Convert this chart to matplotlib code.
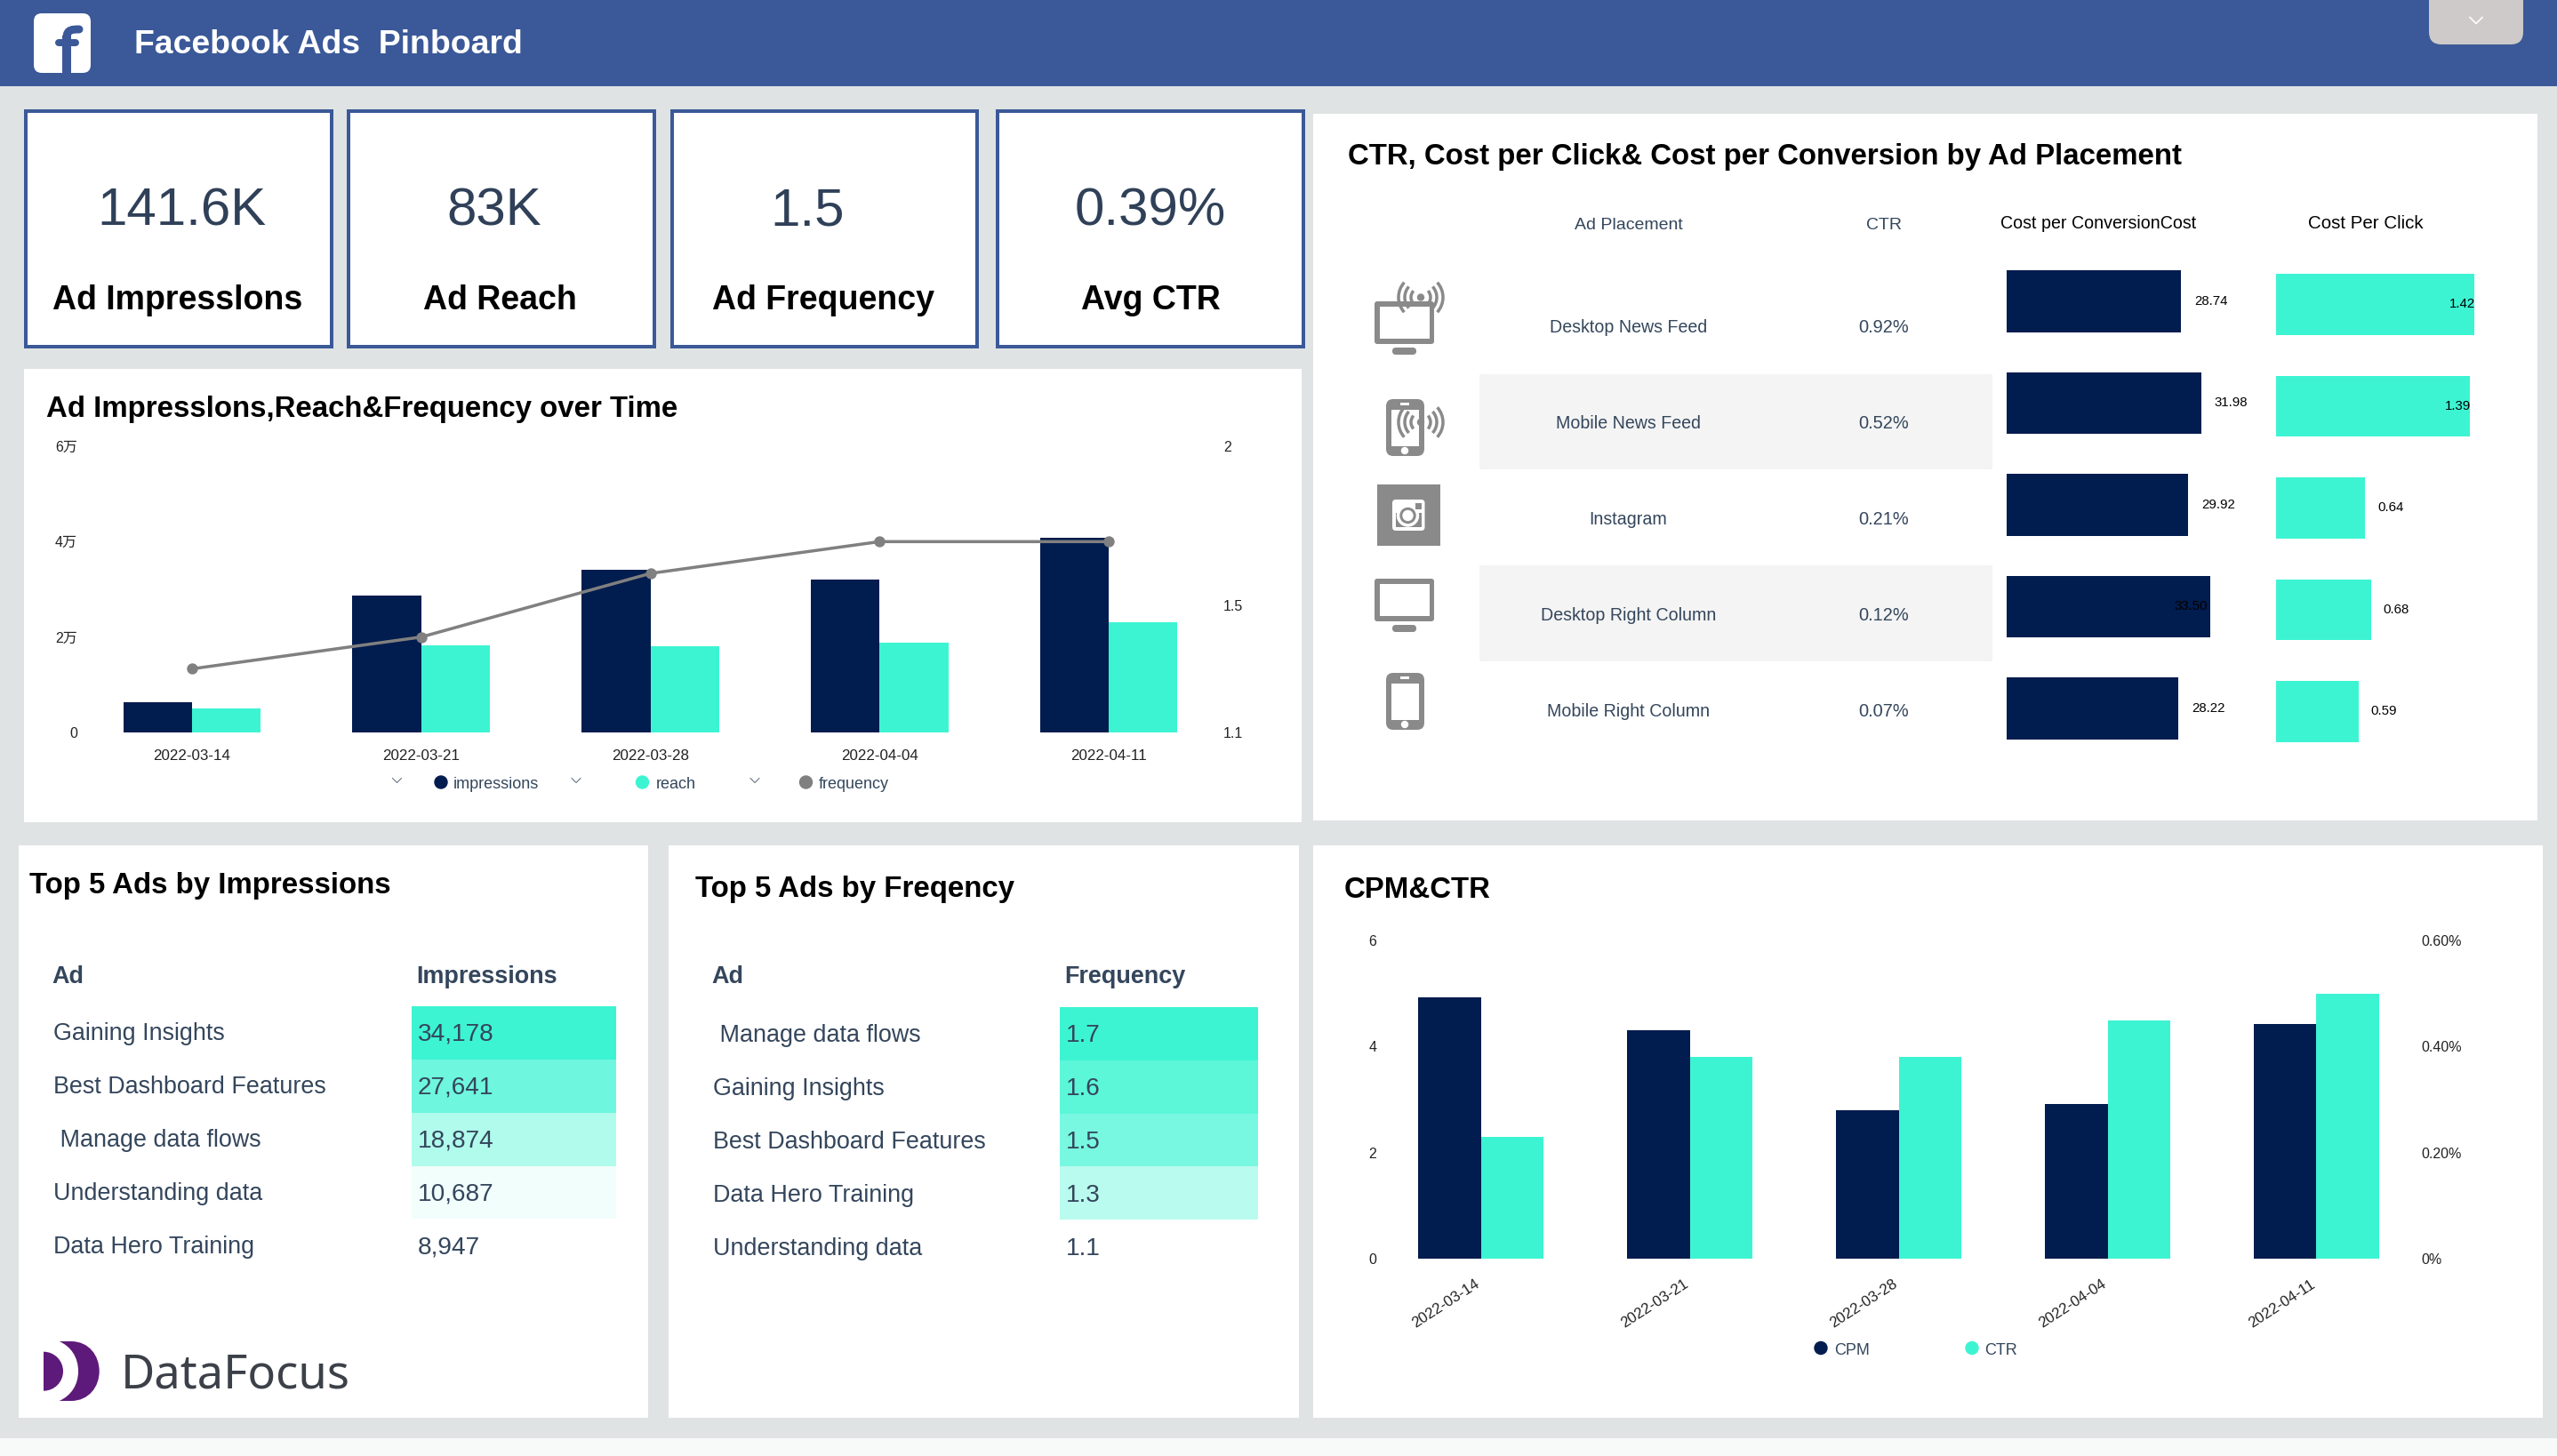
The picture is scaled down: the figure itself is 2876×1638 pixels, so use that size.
import matplotlib
matplotlib.use('Agg')
import matplotlib.pyplot as plt
from matplotlib.patches import Rectangle, FancyBboxPatch, Circle, Wedge, Arc, PathPatch
from matplotlib.path import Path
from matplotlib.transforms import ScaledTranslation

W, H = 2876, 1638

NAVY = '#011c4e'
TEAL = '#3df4d2'
BLUE = '#3b5998'
GREY = '#8a8a8a'
SLATE = '#34465c'

plt.rcParams['font.family'] = ['Liberation Sans', 'Noto Sans CJK SC', 'DejaVu Sans']

# data
weeks = ['2022-03-14', '2022-03-21', '2022-03-28', '2022-04-04', '2022-04-11']
impressions = [6400, 28760, 34040, 32050, 40750]
reach = [5030, 18200, 18140, 18760, 23170]
frequency = [1.30, 1.40, 1.60, 1.70, 1.70]
cpm = [4.93, 4.30, 2.80, 2.91, 4.43]
ctr_weekly = [0.23, 0.38, 0.38, 0.45, 0.50]

kpi_values = ['141.6K', '83K', '1.5', '0.39%']
kpi_labels = ['Ad Impresslons', 'Ad Reach', 'Ad Frequency', 'Avg CTR']

placements = ['Desktop News Feed', 'Mobile News Feed', 'Instagram', 'Desktop Right Column', 'Mobile Right Column']
placement_ctr = ['0.92%', '0.52%', '0.21%', '0.12%', '0.07%']
cost_conv = [28.74, 31.98, 29.92, 33.50, 28.22]
cost_click = [1.42, 1.39, 0.64, 0.68, 0.59]

top_imp_ads = ['Gaining Insights', 'Best Dashboard Features', ' Manage data flows', 'Understanding data', 'Data Hero Training']
top_imp_values = ['34,178', '27,641', '18,874', '10,687', '8,947']
top_imp_colors = ['#3df4d2', '#6ef7de', '#b0fbec', '#f1fefb', '#ffffff']

top_freq_ads = [' Manage data flows', 'Gaining Insights', 'Best Dashboard Features', 'Data Hero Training', 'Understanding data']
top_freq_values = ['1.7', '1.6', '1.5', '1.3', '1.1']
top_freq_colors = ['#3df4d2', '#5cf6d9', '#79f8e1', '#b9fbee', '#ffffff']


def fs(px):
    return px * 0.72


def px_axes(x0, y0, x1, y1):
    ax = fig.add_axes([x0 / W, 1 - y1 / H, (x1 - x0) / W, (y1 - y0) / H], zorder=2)
    ax.patch.set_visible(False)
    for s in ax.spines.values():
        s.set_visible(False)
    ax.tick_params(length=0, pad=0)
    return ax


def rect(x0, y0, x1, y1, color, **kw):
    bg.add_patch(Rectangle((x0, y0), x1 - x0, y1 - y0, facecolor=color, edgecolor='none', **kw))


def round_rect(x0, y0, x1, y1, r, color):
    bg.add_patch(FancyBboxPatch((x0 + r, y0 + r), x1 - x0 - 2 * r, y1 - y0 - 2 * r,
                                boxstyle='round,pad=%f,rounding_size=%f' % (r, r),
                                facecolor=color, edgecolor='none'))


def label(x, y, s, px, color='black', weight='normal', ha='left', **kw):
    # va='center' sits a little high for this font
    bg.text(x, y + 2.5, s, fontsize=fs(px), color=color, fontweight=weight, ha=ha, va='center', **kw)


def chevron(x, y, half, drop, color, lw):
    bg.plot([x - half, x, x + half], [y - drop / 2, y + drop / 2, y - drop / 2], color=color, lw=lw)


def wifi(x, y):
    bg.add_patch(Circle((x, y), 3.5, color=GREY))
    for r in [11, 18, 25]:
        for mid in [0, 180]:
            bg.add_patch(Arc((x, y), 2 * r, 2 * r, theta1=mid - 42, theta2=mid + 42, color=GREY, lw=fs(3.5)))


def monitor(y):
    round_rect(1546, y, 1613, y + 48, 3, GREY)
    rect(1552, y + 6, 1608, y + 42, 'white')
    round_rect(1566, y + 52, 1593, y + 60, 4, GREY)


def phone(y):
    round_rect(1559, y, 1602, y + 64, 8, GREY)
    rect(1564.5, y + 12, 1596, y + 53, 'white')
    rect(1575, y + 4, 1585, y + 6.5, 'white')
    bg.add_patch(Circle((1580, y + 58), 3.5, color='white'))


def instagram():
    rect(1549, 545, 1619.5, 614, GREY)
    round_rect(1566, 562, 1602.5, 597, 4, 'white')
    rect(1570, 577, 1598.5, 593, GREY)
    bg.add_patch(Circle((1583.5, 580), 12, color='white'))
    bg.add_patch(Circle((1583.5, 580), 8.5, color=GREY))
    bg.add_patch(Circle((1583.5, 580), 5.5, color='white'))
    rect(1592, 566, 1598.5, 573, GREY)


def table(x_ad, x_head, x_val, x_cell0, x_cell1, rows_y, edges, ads, values, colors, title, title_x, title_y, head, head_y):
    label(title_x, title_y, title, 33, weight='bold')
    label(x_ad - 1.5, head_y, 'Ad', 27, SLATE, 'bold')
    label(x_head, head_y, head, 27, SLATE, 'bold')
    for i in range(5):
        if colors[i] != '#ffffff':
            rect(x_cell0, edges[i], x_cell1, edges[i + 1], colors[i])
        label(x_ad, rows_y[i], ads[i], 26.9, SLATE)
        label(x_val, rows_y[i], values[i], 28, SLATE)


fig = plt.figure(figsize=(W / 100, H / 100), dpi=100, facecolor='#dfe3e3')

# page layer in pixel coordinates, y pointing down
bg = fig.add_axes([0, 0, 1, 1], zorder=0)
bg.set_xlim(0, W)
bg.set_ylim(H, 0)
bg.axis('off')

# header
rect(0, 0, W, 97, BLUE)
rect(0, 1618, W, H, '#f8f9f9')
round_rect(38, 15, 102, 82, 9, 'white')
bg.plot([75, 75], [82, 40], color=BLUE, lw=fs(10), solid_capstyle='butt')
bg.add_patch(PathPatch(Path([(75, 42), (75, 33), (82, 33), (89, 33)], [Path.MOVETO, Path.CURVE4, Path.CURVE4, Path.CURVE4]),
                       facecolor='none', edgecolor=BLUE, lw=fs(9), capstyle='round'))
bg.plot([66, 85], [48, 48], color=BLUE, lw=fs(8), solid_capstyle='round')
label(151, 48, 'Facebook Ads  Pinboard', 37.4, 'white', 'bold')
rect(2732, 0, 2838, 20, '#cdcac9')
round_rect(2732, 0, 2838, 50, 14, '#cdcac9')
chevron(2785, 23, 7, 7, 'white', 1.2)

# KPI cards
card_x = [(27, 375), (390, 738), (753.5, 1101), (1120, 1468)]
value_cx = [204, 556, 908, 1294]
label_cx = [200, 562, 926, 1294]
for i in range(4):
    x0, x1 = card_x[i]
    rect(x0, 123, x1, 392, BLUE)
    rect(x0 + 4, 127, x1 - 4, 388, 'white')
    label(value_cx[i], 235, kpi_values[i], 60, '#2f4058', ha='center')
    label(label_cx[i], 335, kpi_labels[i], 37.5, weight='bold', ha='center')

# white panels
rect(27, 415, 1463.5, 925, 'white')
rect(1477, 128, 2854, 923, 'white')
rect(21, 951, 729, 1594.5, 'white')
rect(751.5, 951, 1461, 1594.5, 'white')
rect(1477, 951, 2860, 1594.5, 'white')

# impressions, reach and frequency by week
label(52, 458, 'Ad Impresslons,Reach&Frequency over Time', 33, weight='bold')
ax1 = px_axes(87, 502, 1376, 824)
x = range(5)
ax1.bar([i - 0.15 for i in x], impressions, width=0.3, color=NAVY)
ax1.bar([i + 0.15 for i in x], reach, width=0.3, color=TEAL)
ax1.set_xlim(-0.5, 4.5)
ax1.set_ylim(0, 60000)
ax1.set_xticks(list(x))
ax1.set_xticklabels(weeks, fontsize=fs(17), color='#222222')
ax1.tick_params(axis='x', pad=14)
ax1.set_yticks([0, 20000, 40000, 60000])
ax1.set_yticklabels(['0', '2万', '4万', '6万'], fontsize=fs(16), color='#222222')

ax1b = ax1.twinx()
ax1b.patch.set_visible(False)
for s in ax1b.spines.values():
    s.set_visible(False)
ax1b.plot(list(x), frequency, color='#808080', lw=fs(3.5), marker='o', ms=fs(11))
ax1b.set_ylim(1.1, 2)
ax1b.set_yticks([1.1, 1.5, 2])
ax1b.set_yticklabels(['1.1', '1.5', '2'], fontsize=fs(16), color='#222222')
ax1b.tick_params(length=0, pad=0)

for cx, dot, tx, name, col in [(446.5, 496, 510, 'impressions', NAVY), (648, 722.5, 737.5, 'reach', TEAL), (849, 906.5, 921, 'frequency', '#808080')]:
    chevron(cx, 878, 5, 5, '#55657a', 0.7)
    bg.add_patch(Circle((dot, 880), 7, color=col))
    label(tx, 880, name, 18, SLATE)

# placement table
label(1515.5, 174, 'CTR, Cost per Click& Cost per Conversion by Ad Placement', 33, weight='bold')
label(1832, 251, 'Ad Placement', 19.5, SLATE, ha='center')
label(2118.5, 251, 'CTR', 19.5, SLATE, ha='center')
label(2360, 249, 'Cost per ConversionCost', 19.6, ha='center')
label(2661, 249, 'Cost Per Click', 20.5, ha='center')
rect(1664, 421, 2241, 528, '#f4f4f4')
rect(1664, 636, 2241, 744, '#f4f4f4')
row_y = [365.5, 473.5, 582, 690, 797.5]
for i in range(5):
    label(1831.5, row_y[i], placements[i], 19.6, SLATE, ha='center')
    label(2118.5, row_y[i], placement_ctr[i], 20, SLATE, ha='center')

monitor(339)
wifi(1598, 334.5)
phone(449)
wifi(1598, 475)
instagram()
monitor(651)
phone(757)

ax2 = px_axes(2257.4, 281.6, 2530.2, 854.2)
ax2.barh(list(x), cost_conv, height=0.607, color=NAVY)
ax2.set_xlim(0, 40)
ax2.set_ylim(4.5, -0.5)
ax2.set_xticks([])
ax2.set_yticks([])
for i in x:
    if cost_conv[i] > 33:
        ax2.annotate('%.2f' % cost_conv[i], (cost_conv[i], i), xytext=(-2, 0), textcoords='offset points',
                     ha='right', va='center', fontsize=fs(15), color='black')
    else:
        ax2.annotate('%.2f' % cost_conv[i], (cost_conv[i], i), xytext=(11, 0), textcoords='offset points',
                     ha='left', va='center', fontsize=fs(15), color='black')

ax3 = px_axes(2560, 285.2, 2842.6, 857.7)
ax3.barh(list(x), cost_click, height=0.6, color=TEAL)
ax3.set_xlim(0, 1.8)
ax3.set_ylim(4.5, -0.5)
ax3.set_xticks([])
ax3.set_yticks([])
for i in x:
    if cost_click[i] > 1:
        ax3.annotate('%.2f' % cost_click[i], (cost_click[i], i), xytext=(0.5, 0), textcoords='offset points',
                     ha='right', va='center', fontsize=fs(15), color='black')
    else:
        ax3.annotate('%.2f' % cost_click[i], (cost_click[i], i), xytext=(10, 0), textcoords='offset points',
                     ha='left', va='center', fontsize=fs(15), color='black')

# top 5 tables
table(60, 468, 470, 463, 693, [1161, 1221, 1281, 1341, 1401], [1131.5, 1191.5, 1251.5, 1311.5, 1371, 1431],
      top_imp_ads, top_imp_values, top_imp_colors, 'Top 5 Ads by Impressions', 33, 994, 'Impressions', 1096)
table(801.5, 1197, 1198.5, 1192, 1414.5, [1162, 1222, 1282, 1342, 1402], [1133, 1192.5, 1252.5, 1312, 1372, 1432],
      top_freq_ads, top_freq_values, top_freq_colors, 'Top 5 Ads by Freqency', 782, 998, 'Frequency', 1097)

# logo
bg.add_patch(Wedge((49, 1542.7), 22, -90, 90, facecolor='#5e1a7a', edgecolor='none'))
logo_path = Path([(66.7, 1509), (80, 1509), (100, 1509), (111.7, 1525), (111.7, 1542.7),
                  (111.7, 1560), (100, 1576), (80, 1576), (66.7, 1576),
                  (80, 1570), (88, 1558), (88, 1542.7), (88, 1527), (80, 1515), (66.7, 1509)],
                 [Path.MOVETO, Path.LINETO, Path.CURVE4, Path.CURVE4, Path.CURVE4,
                  Path.CURVE4, Path.CURVE4, Path.CURVE4, Path.LINETO,
                  Path.CURVE4, Path.CURVE4, Path.CURVE4, Path.CURVE4, Path.CURVE4, Path.CURVE4])
bg.add_patch(PathPatch(logo_path, facecolor='#5e1a7a', edgecolor='none'))
bg.text(136, 1548, 'DataFocus', fontsize=fs(52.5), color='#3c4048', family='Noto Sans', ha='left', va='center')

# CPM and CTR by week
label(1511.5, 999, 'CPM&CTR', 33, weight='bold')
ax4 = px_axes(1548.5, 1058, 2722.9, 1416)
ax4.bar([i - 0.15 for i in x], cpm, width=0.3, color=NAVY)
ax4.set_xlim(-0.5, 4.5)
ax4.set_ylim(0, 6)
ax4.set_yticks([0, 2, 4, 6])
ax4.set_yticklabels(['0', '2', '4', '6'], fontsize=fs(16), color='#222222')
ax4.set_xticks(list(x))
ax4.set_xticklabels(weeks, fontsize=fs(17), color='#222222', rotation=33, ha='right', rotation_mode='anchor')
ax4.tick_params(axis='x', pad=15)
for t in ax4.get_xticklabels():
    t.set_transform(t.get_transform() + ScaledTranslation(-0.07, 0, fig.dpi_scale_trans))

ax4b = ax4.twinx()
ax4b.patch.set_visible(False)
for s in ax4b.spines.values():
    s.set_visible(False)
ax4b.bar([i + 0.15 for i in x], ctr_weekly, width=0.3, color=TEAL)
ax4b.set_ylim(0, 0.6)
ax4b.set_yticks([0, 0.2, 0.4, 0.6])
ax4b.set_yticklabels(['0%', '0.20%', '0.40%', '0.60%'], fontsize=fs(16), color='#222222')
ax4b.tick_params(length=0, pad=0)

for dot, tx, name, col in [(2048, 2063, 'CPM', NAVY), (2218, 2232, 'CTR', TEAL)]:
    bg.add_patch(Circle((dot, 1516.5), 7, color=col))
    label(tx, 1516.5, name, 18, SLATE)

fig.savefig('out.png', dpi=100, facecolor=fig.get_facecolor())
